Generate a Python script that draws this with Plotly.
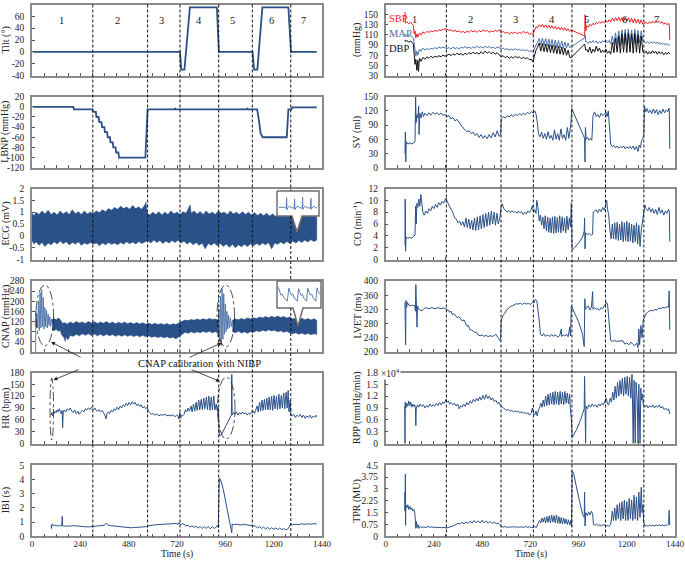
import plotly.graph_objects as go

W, H = 685, 561
FONT = "Liberation Serif"
LINE = "#2b5189"
FRAME = "#8a8a8a"

# ---------------- data (time in s) ----------------
phase_bounds = [302, 574, 735, 927, 1094, 1285]
phase_labels = ["1", "2", "3", "4", "5", "6", "7"]
phase_label_t = [145, 424, 645, 828, 997, 1190, 1350]

time_ticks = [0, 240, 480, 720, 960, 1200, 1440]

tilt = [(5, 0), (735, 0), (741, -30), (757, -30), (784, 75), (918, 75), (928, 0), (1095, 0),
        (1103, -30), (1119, -30), (1144, 75), (1273, 75), (1286, 0), (1414, 0)]

lbnp = [(5, 0), (205, 0), (208, -5), (300, -5), (306, -10), (317, -10), (320, -20), (331, -20),
        (334, -30), (345, -30), (348, -40), (359, -40), (362, -50), (373, -50), (376, -60),
        (387, -60), (390, -70), (401, -70), (404, -80), (415, -80), (418, -90), (429, -90),
        (432, -100), (563, -100), (574, -5), (708, -5), (710, -2), (712, -5), (1067, -5),
        (1069, -2), (1071, -5), (1118, -5), (1128, -30), (1135, -52), (1145, -60), (1265, -60),
        (1273, -5), (1288, -5), (1292, -1), (1414, -1)]

ecg_hi = [(0, 0.95), (10, 0.85), (20, 1.0), (35, 0.9), (50, 1.05), (65, 0.92), (80, 1.08), (95, 0.9),
          (110, 1.0), (125, 0.88), (140, 1.05), (155, 0.92), (170, 1.02), (185, 0.9), (200, 1.1),
          (215, 0.93), (230, 1.02), (245, 0.9), (260, 1.05), (275, 0.92), (290, 1.0), (305, 0.95),
          (320, 1.05), (335, 0.98), (350, 1.1), (365, 1.02), (380, 1.15), (395, 1.08), (410, 1.2),
          (425, 1.12), (440, 1.25), (455, 1.15), (470, 1.22), (485, 1.12), (500, 1.28), (515, 1.15),
          (530, 1.22), (545, 1.12), (560, 1.3), (566, 1.42), (572, 0.95), (585, 0.88), (600, 1.0),
          (615, 0.9), (630, 1.02), (645, 0.88), (660, 1.0), (675, 0.9), (690, 1.05), (705, 0.92),
          (720, 1.0), (735, 0.9), (750, 1.02), (765, 0.95), (785, 1.3), (790, 0.95), (805, 1.05),
          (820, 0.92), (835, 1.02), (850, 0.9), (865, 1.05), (880, 0.92), (895, 1.0), (910, 0.9),
          (925, 1.05), (940, 0.95), (955, 1.0), (970, 0.9), (985, 1.05), (1000, 0.92), (1015, 1.0),
          (1030, 0.9), (1045, 1.02), (1060, 0.9), (1075, 1.0), (1090, 0.88), (1105, 0.98),
          (1120, 0.86), (1135, 0.95), (1150, 0.85), (1165, 0.95), (1180, 0.84), (1195, 0.92),
          (1210, 0.82), (1225, 0.9), (1240, 0.8), (1255, 0.9), (1270, 0.82), (1285, 0.92),
          (1300, 0.84), (1315, 0.9), (1330, 0.82), (1345, 0.88), (1360, 0.8), (1375, 0.86),
          (1390, 0.8), (1405, 0.85), (1414, 0.78)]

ecg_lo = [(0, -0.2), (10, -0.35), (20, -0.25), (35, -0.4), (50, -0.28), (65, -0.45), (80, -0.3),
          (95, -0.38), (110, -0.25), (125, -0.35), (140, -0.22), (155, -0.33), (170, -0.25),
          (185, -0.38), (200, -0.28), (215, -0.35), (230, -0.25), (245, -0.4), (260, -0.3),
          (275, -0.36), (290, -0.28), (305, -0.35), (320, -0.3), (335, -0.42), (350, -0.3),
          (365, -0.38), (380, -0.28), (395, -0.36), (410, -0.3), (425, -0.38), (440, -0.28),
          (455, -0.35), (470, -0.25), (485, -0.33), (500, -0.26), (515, -0.34), (530, -0.24),
          (545, -0.32), (560, -0.25), (575, -0.2), (590, -0.3), (605, -0.18), (620, -0.28),
          (635, -0.2), (650, -0.32), (665, -0.22), (680, -0.3), (695, -0.2), (710, -0.28),
          (725, -0.18), (740, -0.3), (755, -0.22), (770, -0.35), (785, -0.25), (800, -0.38),
          (815, -0.28), (830, -0.4), (845, -0.3), (860, -0.55), (875, -0.32), (890, -0.4),
          (905, -0.3), (920, -0.42), (935, -0.32), (950, -0.45), (965, -0.35), (980, -0.48),
          (995, -0.36), (1010, -0.5), (1025, -0.38), (1040, -0.46), (1055, -0.36), (1070, -0.45),
          (1085, -0.34), (1100, -0.42), (1115, -0.32), (1130, -0.4), (1145, -0.3), (1160, -0.38),
          (1175, -0.28), (1190, -0.55), (1205, -0.3), (1220, -0.36), (1235, -0.26), (1250, -0.34),
          (1265, -0.24), (1280, -0.32), (1295, -0.22), (1310, -0.3), (1325, -0.2), (1340, -0.28),
          (1355, -0.18), (1370, -0.26), (1385, -0.16), (1400, -0.24), (1414, -0.18)]

cnap_hi_a = [(100, 128), (110, 132), (120, 126), (130, 134), (140, 128), (146, 118), (152, 112),
             (160, 116), (175, 110), (190, 118), (205, 112), (220, 120), (235, 114), (250, 118),
             (265, 112), (280, 120), (295, 114), (310, 119), (325, 112), (340, 118), (355, 113),
             (370, 120), (385, 112), (400, 118), (415, 111), (430, 117), (445, 112), (460, 118),
             (475, 111), (490, 116), (505, 110), (520, 116), (535, 110), (550, 115), (565, 109),
             (580, 114), (595, 108), (610, 113), (625, 108), (640, 112), (655, 107), (670, 112),
             (685, 106), (700, 111), (715, 108), (730, 115), (745, 122), (760, 126), (775, 124),
             (790, 128), (805, 125), (820, 130), (835, 126), (850, 131), (865, 127), (880, 132),
             (895, 128), (910, 130), (925, 126)]
cnap_lo_a = [(100, 88), (110, 84), (120, 90), (130, 82), (140, 86), (146, 70), (152, 62), (160, 55),
             (165, 42), (170, 60), (178, 48), (190, 65), (205, 62), (220, 70), (235, 64), (250, 72),
             (265, 66), (280, 72), (295, 65), (310, 71), (325, 64), (340, 70), (355, 63), (370, 70),
             (385, 64), (400, 69), (415, 62), (430, 68), (445, 62), (460, 68), (475, 62), (490, 67),
             (505, 61), (520, 66), (535, 60), (550, 66), (565, 60), (580, 64), (595, 58), (610, 62),
             (625, 57), (640, 61), (655, 56), (670, 60), (685, 55), (700, 58), (715, 52), (730, 60),
             (745, 70), (760, 78), (775, 74), (790, 80), (805, 75), (820, 80), (835, 76), (850, 82),
             (865, 77), (880, 82), (895, 76), (910, 80), (925, 75)]
cnap_hi_b = [(995, 125), (1010, 130), (1025, 127), (1040, 132), (1055, 128), (1070, 134), (1085, 130),
             (1100, 135), (1115, 132), (1130, 138), (1145, 134), (1160, 140), (1175, 135), (1190, 141),
             (1205, 136), (1220, 142), (1235, 136), (1250, 140), (1265, 134), (1280, 138), (1295, 130),
             (1310, 134), (1325, 128), (1340, 133), (1355, 127), (1370, 132), (1385, 126), (1400, 131),
             (1414, 125)]
cnap_lo_b = [(995, 80), (1010, 76), (1025, 82), (1040, 75), (1055, 80), (1070, 74), (1085, 80),
             (1100, 78), (1115, 84), (1130, 80), (1145, 86), (1160, 82), (1175, 88), (1190, 83),
             (1205, 86), (1220, 80), (1235, 84), (1250, 78), (1265, 82), (1280, 75), (1295, 72),
             (1310, 76), (1325, 70), (1340, 75), (1355, 69), (1370, 74), (1385, 68), (1400, 72),
             (1414, 70)]
cnap_cal_a = [(18, 0), (19, 165), (21, 100), (24, 150), (28, 95), (32, 200), (36, 85), (40, 235),
              (44, 95), (48, 245), (52, 100), (56, 215), (60, 90), (64, 175), (68, 100), (72, 165),
              (76, 95), (80, 150), (84, 105), (88, 140), (92, 100), (96, 130), (100, 110)]
cnap_cal_b = [(920, 115), (924, 60), (928, 170), (932, 40), (936, 220), (940, 25), (944, 250),
              (948, 50), (952, 230), (956, 70), (960, 190), (964, 80), (968, 160), (972, 90),
              (976, 145), (980, 95), (985, 135), (990, 100), (995, 125)]

hr = [(95, 72), (98, 78), (102, 70), (106, 80), (110, 76), (115, 82), (120, 78), (125, 85), (130, 80),
      (135, 88), (140, 82), (145, 75), (150, 84), (152, 40), (155, 78), (160, 85), (168, 80), (175, 88),
      (182, 84), (190, 90), (198, 82), (205, 78), (212, 85), (220, 76), (228, 82), (235, 74), (242, 80),
      (250, 84), (258, 80), (265, 88), (272, 85), (280, 90), (288, 86), (295, 92), (300, 88), (305, 85),
      (312, 90), (318, 84), (325, 82), (332, 86), (340, 80), (348, 84), (355, 78), (362, 72), (368, 62),
      (372, 76), (378, 80), (385, 76), (392, 84), (400, 80), (408, 88), (415, 84), (422, 92), (430, 86),
      (438, 95), (445, 90), (452, 98), (460, 94), (468, 102), (475, 96), (482, 104), (490, 98),
      (498, 106), (505, 100), (512, 104), (520, 96), (528, 100), (535, 94), (542, 98), (550, 90),
      (558, 94), (565, 88), (572, 92), (578, 82), (585, 78), (592, 74), (600, 76), (610, 72), (620, 75),
      (630, 70), (640, 73), (650, 72), (660, 74), (670, 70), (680, 72), (690, 70), (700, 73), (710, 68),
      (718, 72), (725, 70), (730, 62), (734, 78), (738, 65), (742, 72), (748, 70), (755, 74), (762, 86),
      (768, 80), (775, 90), (782, 82), (790, 95), (795, 80), (802, 100), (808, 82), (815, 105),
      (820, 84), (828, 110), (833, 85), (840, 112), (846, 86), (853, 115), (858, 88), (866, 118),
      (871, 86), (878, 120), (884, 84), (890, 118), (896, 86), (903, 120), (908, 85), (915, 100),
      (920, 82), (925, 90), (930, 20), (940, 22), (990, 72), (992, 175), (994, 72), (1000, 78),
      (1008, 74), (1015, 80), (1022, 72), (1030, 78), (1038, 74), (1045, 80), (1052, 75), (1060, 78),
      (1068, 72), (1075, 76), (1082, 74), (1090, 80), (1095, 78), (1100, 82), (1105, 76), (1110, 84),
      (1118, 95), (1123, 80), (1130, 105), (1135, 82), (1142, 110), (1147, 84), (1154, 112), (1159, 86),
      (1166, 115), (1171, 85), (1178, 118), (1183, 86), (1190, 120), (1195, 84), (1202, 122),
      (1207, 88), (1214, 120), (1219, 86), (1226, 125), (1231, 88), (1238, 122), (1243, 90),
      (1250, 128), (1255, 88), (1262, 130), (1267, 90), (1272, 135), (1276, 80), (1282, 110),
      (1286, 72), (1292, 70), (1300, 74), (1308, 66), (1316, 72), (1324, 68), (1332, 74), (1340, 66),
      (1348, 72), (1356, 64), (1364, 70), (1372, 66), (1380, 72), (1388, 64), (1396, 70), (1404, 66),
      (1412, 72), (1414, 68)]

ibi = [(95, 0.8), (97, 0.55), (99, 0.85), (110, 0.75), (120, 0.78), (130, 0.72), (140, 0.76),
       (148, 0.72), (150, 1.4), (152, 0.75), (160, 0.72), (175, 0.7), (190, 0.72), (205, 0.75),
       (220, 0.72), (240, 0.7), (260, 0.68), (280, 0.66), (300, 0.68), (320, 0.7), (340, 0.72),
       (360, 0.78), (368, 0.92), (375, 0.8), (390, 0.75), (410, 0.72), (430, 0.68), (450, 0.66),
       (470, 0.62), (490, 0.6), (510, 0.62), (530, 0.64), (550, 0.66), (570, 0.68), (580, 0.75),
       (600, 0.8), (620, 0.82), (640, 0.84), (660, 0.85), (680, 0.86), (700, 0.88), (715, 0.9),
       (725, 0.85), (730, 0.96), (738, 0.8), (745, 0.9), (755, 0.85), (765, 0.72), (775, 0.78),
       (785, 0.65), (795, 0.75), (805, 0.62), (815, 0.72), (825, 0.58), (835, 0.7), (845, 0.55),
       (855, 0.68), (865, 0.55), (875, 0.7), (885, 0.52), (895, 0.68), (905, 0.55), (915, 0.65),
       (922, 0.8), (925, 0.6), (930, 4.1), (936, 4.0), (950, 3.3), (965, 2.2), (980, 1.2), (990, 0.6),
       (992, 0.25), (994, 0.85), (1005, 0.82), (1020, 0.85), (1035, 0.8), (1050, 0.84), (1065, 0.82),
       (1080, 0.78), (1095, 0.75), (1110, 0.7), (1120, 0.6), (1130, 0.68), (1140, 0.55), (1150, 0.65),
       (1160, 0.52), (1170, 0.62), (1180, 0.5), (1190, 0.6), (1200, 0.5), (1210, 0.58), (1220, 0.48),
       (1230, 0.58), (1240, 0.46), (1250, 0.55), (1260, 0.45), (1270, 0.5), (1278, 0.7), (1285, 0.85),
       (1295, 0.82), (1310, 0.85), (1325, 0.82), (1340, 0.88), (1355, 0.84), (1370, 0.88),
       (1385, 0.85), (1400, 0.9), (1414, 0.85)]

sbp = [(96, 155), (98, 133), (105, 136), (115, 132), (125, 135), (132, 130), (138, 128), (142, 112),
       (146, 118), (150, 104), (155, 112), (160, 106), (168, 114), (176, 110), (185, 116), (195, 113),
       (205, 117), (215, 115), (225, 118), (235, 116), (245, 119), (255, 117), (265, 120), (275, 119),
       (285, 121), (295, 122), (305, 121), (315, 119), (325, 120), (335, 117), (345, 119), (355, 116),
       (365, 118), (375, 115), (385, 117), (395, 114), (405, 118), (415, 115), (425, 119), (435, 116),
       (445, 118), (455, 115), (465, 119), (475, 116), (485, 120), (495, 117), (505, 119), (515, 115),
       (525, 118), (535, 116), (545, 119), (555, 117), (565, 120), (575, 114), (585, 117), (595, 113),
       (605, 116), (615, 112), (625, 115), (635, 113), (645, 116), (655, 112), (665, 115), (675, 113),
       (685, 117), (695, 114), (705, 116), (715, 111), (725, 113), (732, 110), (740, 118), (748, 126),
       (756, 124), (764, 130), (772, 126), (780, 131), (788, 125), (796, 130), (804, 124), (812, 129),
       (820, 123), (828, 128), (836, 122), (844, 127), (852, 121), (860, 126), (868, 120), (876, 125),
       (884, 119), (892, 124), (900, 118), (908, 122), (916, 117), (922, 120), (990, 108), (993, 150),
       (996, 118), (1000, 128), (1008, 125), (1016, 131), (1024, 128), (1032, 133), (1040, 130),
       (1048, 135), (1056, 132), (1064, 136), (1072, 133), (1080, 137), (1088, 134), (1096, 138),
       (1104, 135), (1112, 140), (1120, 136), (1128, 143), (1136, 137), (1144, 144), (1152, 138),
       (1160, 145), (1168, 137), (1176, 144), (1184, 136), (1192, 145), (1200, 137), (1208, 144),
       (1216, 135), (1224, 143), (1232, 134), (1240, 142), (1248, 133), (1256, 141), (1264, 132),
       (1272, 140), (1280, 131), (1288, 133), (1296, 135), (1304, 132), (1312, 136), (1320, 133),
       (1328, 137), (1336, 134), (1344, 138), (1352, 135), (1360, 137), (1368, 133), (1376, 136),
       (1384, 131), (1392, 134), (1400, 130), (1408, 133), (1412, 128), (1414, 100)]

mapr = [(96, 112), (98, 108), (105, 110), (115, 107), (125, 109), (132, 106), (138, 104), (142, 92),
        (146, 80), (150, 68), (155, 78), (160, 70), (168, 82), (176, 78), (185, 84), (195, 80),
        (205, 83), (215, 81), (225, 84), (235, 82), (245, 85), (255, 83), (265, 86), (275, 84),
        (285, 86), (295, 85), (305, 83), (315, 85), (325, 82), (335, 86), (345, 83), (355, 85),
        (365, 82), (375, 86), (385, 84), (395, 87), (405, 84), (415, 86), (425, 83), (435, 87),
        (445, 84), (455, 88), (465, 85), (475, 87), (485, 84), (495, 88), (505, 85), (515, 87),
        (525, 84), (535, 86), (545, 83), (555, 86), (565, 85), (575, 82), (585, 84), (595, 81),
        (605, 83), (615, 80), (625, 82), (635, 80), (645, 83), (655, 80), (665, 82), (675, 79),
        (685, 81), (695, 79), (705, 80), (715, 77), (725, 79), (732, 76), (740, 84), (748, 92),
        (756, 96), (764, 103), (772, 90), (780, 104), (788, 89), (796, 103), (804, 88), (812, 102),
        (820, 87), (828, 101), (836, 86), (844, 100), (852, 85), (860, 99), (868, 84), (876, 98),
        (884, 83), (892, 96), (900, 84), (908, 94), (916, 85), (922, 86), (990, 104), (993, 110),
        (996, 96), (1000, 97), (1008, 93), (1016, 98), (1024, 94), (1032, 99), (1040, 95), (1048, 98),
        (1056, 93), (1064, 97), (1072, 94), (1080, 99), (1088, 96), (1096, 100), (1104, 95),
        (1112, 99), (1120, 92), (1128, 108), (1136, 91), (1144, 114), (1152, 92), (1160, 118),
        (1168, 90), (1176, 120), (1184, 92), (1192, 121), (1200, 91), (1208, 122), (1216, 93),
        (1224, 120), (1232, 92), (1240, 121), (1248, 93), (1256, 119), (1264, 94), (1272, 118),
        (1280, 98), (1288, 96), (1296, 94), (1304, 97), (1312, 93), (1320, 96), (1328, 94),
        (1336, 97), (1344, 93), (1352, 96), (1360, 92), (1368, 95), (1376, 91), (1384, 94),
        (1392, 90), (1400, 93), (1408, 89), (1412, 91), (1414, 90)]

dbp = [(96, 100), (98, 97), (105, 99), (115, 96), (125, 98), (132, 95), (138, 92), (142, 70),
       (146, 52), (150, 62), (155, 40), (160, 60), (163, 38), (168, 64), (176, 58), (185, 66),
       (195, 62), (205, 67), (215, 64), (225, 68), (235, 65), (245, 68), (255, 66), (265, 69),
       (275, 67), (285, 70), (295, 68), (305, 70), (315, 72), (325, 69), (335, 73), (345, 70),
       (355, 74), (365, 71), (375, 73), (385, 70), (395, 74), (405, 71), (415, 75), (425, 72),
       (435, 76), (445, 73), (455, 75), (465, 72), (475, 77), (485, 73), (495, 78), (505, 74),
       (515, 77), (525, 73), (535, 76), (545, 72), (555, 75), (565, 71), (575, 67), (585, 69),
       (595, 65), (605, 68), (615, 64), (625, 67), (635, 64), (645, 68), (655, 65), (665, 67),
       (675, 63), (685, 66), (695, 63), (705, 65), (715, 61), (725, 62), (732, 57), (740, 68),
       (748, 80), (756, 86), (764, 94), (772, 78), (780, 93), (788, 77), (796, 92), (804, 76),
       (812, 91), (820, 75), (828, 90), (836, 74), (844, 89), (852, 73), (860, 88), (868, 72),
       (876, 86), (884, 71), (892, 84), (900, 70), (908, 80), (916, 66), (922, 65), (990, 92),
       (993, 88), (996, 80), (1000, 82), (1008, 76), (1016, 86), (1024, 74), (1032, 82), (1040, 76),
       (1048, 88), (1056, 78), (1064, 84), (1072, 75), (1080, 80), (1088, 76), (1096, 82), (1104, 74),
       (1112, 78), (1120, 72), (1128, 95), (1136, 75), (1144, 104), (1152, 76), (1160, 108),
       (1168, 74), (1176, 112), (1184, 76), (1192, 113), (1200, 75), (1208, 114), (1216, 76),
       (1224, 112), (1232, 74), (1240, 113), (1248, 76), (1256, 110), (1264, 74), (1272, 108),
       (1280, 76), (1288, 74), (1296, 78), (1304, 72), (1312, 77), (1320, 73), (1328, 79),
       (1336, 74), (1344, 78), (1352, 72), (1360, 77), (1368, 73), (1376, 76), (1384, 71),
       (1392, 75), (1400, 72), (1408, 76), (1412, 73), (1414, 74)]

sv = [(96, 30), (98, 75), (100, 12), (102, 55), (110, 50), (120, 52), (130, 50), (140, 53), (146, 55),
      (149, 150), (151, 95), (155, 112), (160, 105), (164, 130), (166, 70), (170, 115), (176, 105),
      (182, 118), (188, 108), (195, 115), (205, 110), (215, 116), (225, 111), (235, 117), (245, 113),
      (255, 116), (265, 112), (275, 115), (285, 111), (295, 112), (305, 108), (315, 110), (325, 103),
      (335, 106), (345, 99), (355, 102), (365, 95), (375, 90), (385, 84), (395, 80), (405, 76),
      (415, 78), (425, 72), (435, 75), (445, 68), (455, 72), (465, 64), (475, 70), (485, 62),
      (495, 68), (505, 61), (515, 70), (525, 63), (535, 74), (545, 65), (555, 78), (565, 66),
      (572, 70), (576, 104), (585, 108), (595, 105), (605, 110), (615, 107), (625, 112), (635, 108),
      (645, 113), (655, 110), (665, 114), (675, 111), (685, 115), (695, 112), (705, 117), (715, 114),
      (725, 118), (735, 115), (742, 120), (748, 114), (755, 95), (760, 72), (768, 65), (776, 75),
      (784, 62), (792, 72), (800, 60), (808, 76), (816, 62), (824, 68), (832, 58), (840, 80),
      (848, 60), (856, 72), (864, 58), (872, 82), (880, 62), (888, 70), (896, 58), (904, 85),
      (912, 62), (918, 80), (922, 95), (926, 125), (990, 62), (992, 12), (994, 85), (998, 60),
      (1005, 64), (1012, 58), (1020, 62), (1026, 58), (1032, 110), (1040, 118), (1048, 108),
      (1056, 112), (1064, 106), (1072, 115), (1080, 110), (1088, 113), (1096, 118), (1102, 108),
      (1108, 120), (1114, 85), (1120, 50), (1128, 44), (1136, 47), (1144, 42), (1152, 46),
      (1160, 41), (1168, 45), (1176, 42), (1184, 46), (1192, 40), (1200, 44), (1208, 41),
      (1216, 45), (1224, 40), (1232, 46), (1240, 38), (1248, 45), (1256, 34), (1262, 48),
      (1268, 42), (1274, 58), (1280, 62), (1285, 70), (1288, 130), (1294, 118), (1300, 125),
      (1308, 116), (1316, 122), (1324, 114), (1332, 124), (1340, 115), (1348, 123), (1356, 112),
      (1364, 121), (1372, 114), (1380, 124), (1388, 116), (1396, 122), (1404, 118), (1410, 126),
      (1412, 120), (1414, 40)]

co = [(96, 2.5), (97, 10.2), (99, 1.4), (101, 3.8), (110, 3.6), (120, 3.7), (130, 3.6), (140, 4.0),
      (146, 4.1), (149, 9.0), (152, 6.0), (155, 9.5), (160, 8.8), (165, 10.2), (170, 9.0),
      (175, 11.0), (180, 9.5), (185, 8.0), (192, 7.5), (200, 8.2), (208, 7.8), (216, 8.6), (224, 8.2),
      (232, 9.0), (240, 8.6), (248, 9.3), (256, 8.8), (264, 9.6), (272, 9.2), (280, 9.8), (288, 9.5),
      (295, 10.2), (300, 10.4), (306, 9.8), (312, 9.4), (320, 9.0), (328, 8.5), (336, 7.8),
      (344, 7.0), (352, 6.8), (360, 6.2), (368, 6.5), (376, 5.8), (384, 6.4), (392, 5.5), (400, 7.0),
      (406, 5.4), (414, 6.8), (420, 5.2), (428, 6.6), (434, 5.0), (442, 7.0), (448, 4.9), (456, 7.2),
      (462, 5.0), (470, 7.4), (476, 5.2), (484, 7.6), (490, 5.4), (498, 7.8), (504, 5.6), (512, 8.0),
      (518, 5.8), (526, 8.2), (532, 6.0), (540, 8.0), (546, 5.8), (554, 7.8), (560, 6.0), (568, 7.0),
      (574, 8.8), (580, 9.4), (588, 8.6), (596, 8.2), (604, 8.0), (612, 8.3), (620, 7.9), (628, 8.2),
      (636, 8.0), (644, 8.1), (652, 7.8), (660, 8.2), (668, 7.9), (676, 8.1), (684, 7.6), (692, 8.0),
      (700, 7.7), (708, 8.2), (716, 7.9), (724, 8.4), (730, 9.1), (736, 8.0), (742, 8.4), (748, 7.8),
      (752, 10.0), (758, 8.8), (764, 6.5), (770, 7.5), (776, 5.8), (782, 7.2), (788, 5.2), (794, 7.4),
      (800, 4.8), (806, 7.2), (812, 4.6), (818, 7.0), (824, 4.5), (830, 7.2), (836, 4.4), (842, 7.3),
      (848, 4.5), (854, 7.1), (860, 4.6), (866, 7.4), (872, 4.5), (878, 7.2), (884, 4.8), (890, 7.0),
      (896, 4.5), (902, 7.3), (908, 5.0), (914, 7.0), (920, 5.5), (924, 9.5), (928, 1.6), (940, 2.0),
      (960, 2.8), (980, 3.8), (988, 4.8), (990, 7.0), (992, 1.8), (995, 4.5), (1005, 4.2),
      (1015, 4.4), (1025, 4.1), (1030, 4.3), (1033, 8.0), (1040, 8.2), (1048, 8.4), (1056, 7.9),
      (1064, 8.5), (1072, 8.1), (1080, 8.8), (1088, 8.3), (1094, 9.0), (1100, 10.0), (1104, 8.5),
      (1110, 7.5), (1116, 5.0), (1122, 3.5), (1128, 6.0), (1134, 3.5), (1140, 6.2), (1146, 3.4),
      (1152, 6.3), (1158, 3.2), (1164, 6.0), (1170, 3.3), (1176, 6.4), (1182, 3.0), (1188, 6.2),
      (1194, 3.2), (1200, 6.5), (1206, 3.0), (1212, 6.2), (1218, 3.1), (1224, 6.0), (1230, 2.8),
      (1236, 5.8), (1242, 3.0), (1248, 6.2), (1254, 2.6), (1260, 5.8), (1266, 2.2), (1272, 5.0),
      (1278, 6.5), (1284, 8.0), (1290, 9.2), (1296, 8.6), (1304, 8.2), (1312, 8.8), (1320, 8.0),
      (1328, 8.6), (1336, 7.8), (1344, 8.5), (1352, 7.6), (1360, 8.8), (1368, 7.8), (1376, 8.4),
      (1384, 7.5), (1392, 8.2), (1400, 7.8), (1408, 8.5), (1412, 8.0), (1414, 3.0)]

lvet = [(96, 340), (97, 300), (99, 220), (101, 345), (104, 325), (108, 340), (115, 332), (125, 330),
        (135, 332), (145, 330), (148, 315), (150, 390), (152, 320), (156, 270), (158, 330), (165, 320),
        (172, 318), (180, 316), (190, 322), (200, 325), (215, 322), (230, 325), (245, 322), (260, 325),
        (275, 322), (290, 324), (300, 322), (305, 318), (312, 318), (318, 312), (325, 315), (332, 305),
        (340, 308), (348, 300), (356, 296), (364, 300), (372, 292), (380, 288), (390, 290), (398, 278),
        (405, 272), (412, 275), (420, 262), (428, 262), (436, 258), (444, 255), (452, 256), (460, 248),
        (470, 246), (480, 248), (490, 244), (500, 247), (510, 243), (520, 246), (530, 244), (540, 246),
        (548, 250), (555, 242), (562, 238), (568, 232), (572, 236), (575, 290), (580, 300), (586, 305),
        (594, 310), (600, 318), (610, 322), (620, 328), (630, 330), (640, 334), (650, 336), (660, 335),
        (670, 337), (680, 334), (690, 338), (700, 335), (710, 337), (720, 334), (728, 338), (732, 340),
        (738, 338), (745, 348), (752, 345), (758, 320), (764, 290), (770, 250), (778, 245), (786, 252),
        (794, 244), (802, 248), (810, 246), (818, 244), (826, 250), (834, 244), (842, 248), (850, 245),
        (858, 242), (866, 246), (874, 265), (876, 244), (884, 248), (892, 245), (900, 250), (908, 243),
        (916, 270), (920, 245), (924, 330), (940, 310), (960, 285), (980, 250), (988, 215), (991, 350),
        (994, 320), (1000, 325), (1008, 330), (1016, 318), (1024, 326), (1030, 370), (1032, 320),
        (1040, 325), (1048, 320), (1056, 322), (1064, 318), (1072, 325), (1080, 322), (1088, 330),
        (1094, 336), (1100, 340), (1105, 330), (1110, 300), (1115, 260), (1120, 232), (1130, 230),
        (1140, 232), (1150, 230), (1160, 231), (1170, 230), (1180, 232), (1190, 222), (1200, 226),
        (1210, 220), (1220, 228), (1230, 222), (1240, 218), (1250, 225), (1256, 212), (1260, 265),
        (1264, 220), (1270, 275), (1276, 240), (1282, 290), (1288, 300), (1296, 308), (1304, 312),
        (1312, 315), (1320, 318), (1330, 316), (1340, 320), (1350, 318), (1360, 324), (1370, 322),
        (1380, 326), (1390, 324), (1400, 328), (1408, 326), (1411, 372), (1414, 262)]

rpp = [(95, 9500), (96, 0), (97, 10500), (100, 9000), (105, 10200), (110, 9400), (115, 10800),
       (120, 9600), (125, 10500), (130, 9200), (135, 10000), (140, 9400), (145, 9800), (148, 8800),
       (150, 4500), (152, 9000), (158, 9800), (165, 9200), (172, 10000), (180, 9400), (188, 9800),
       (196, 9000), (204, 9600), (212, 9200), (220, 10000), (228, 9400), (236, 9800), (244, 9500),
       (252, 10200), (260, 9600), (268, 10400), (276, 9800), (284, 10500), (292, 10200), (300, 11200),
       (306, 10500), (312, 10800), (318, 10000), (326, 10400), (334, 9800), (342, 10200), (350, 9500),
       (358, 10000), (366, 8800), (372, 9600), (380, 9200), (388, 10000), (396, 9400), (404, 10400),
       (412, 9800), (420, 10800), (428, 10200), (436, 11200), (444, 10600), (452, 11500), (460, 10800),
       (468, 11800), (476, 11000), (484, 12200), (492, 11200), (500, 12400), (508, 11400), (516, 12000),
       (524, 11000), (532, 11600), (540, 10600), (548, 11000), (556, 10200), (564, 10400), (572, 9600),
       (580, 9200), (588, 8800), (596, 8600), (604, 8400), (612, 8600), (620, 8200), (628, 8400),
       (636, 8000), (644, 8300), (652, 8000), (660, 8200), (668, 7800), (676, 8000), (684, 7600),
       (692, 7900), (700, 7500), (708, 7800), (716, 7200), (724, 7600), (730, 9000), (736, 7600),
       (742, 7200), (748, 8200), (754, 7000), (760, 8500), (766, 9000), (772, 10200), (778, 9200),
       (784, 11000), (790, 9400), (796, 12000), (802, 9600), (808, 12500), (814, 9800), (820, 12800),
       (826, 10000), (832, 13000), (838, 9800), (844, 13200), (850, 10000), (856, 13000), (862, 9800),
       (868, 13200), (874, 10000), (880, 13000), (886, 9800), (892, 13200), (898, 10200), (904, 12800),
       (910, 10000), (916, 12500), (920, 8000), (924, 6500), (928, 1500), (950, 3500), (970, 6000),
       (988, 8800), (990, 17000), (992, 9000), (995, 0), (997, 9500), (1004, 8800), (1012, 9800),
       (1020, 9200), (1028, 10000), (1036, 9400), (1044, 9800), (1052, 9200), (1060, 10000),
       (1068, 9500), (1076, 10200), (1084, 9800), (1092, 10800), (1098, 11500), (1104, 10000),
       (1110, 9800), (1118, 11500), (1124, 10500), (1130, 13000), (1136, 11000), (1142, 14500),
       (1148, 11500), (1154, 15500), (1160, 12000), (1166, 16000), (1172, 12500), (1178, 16500),
       (1184, 12000), (1190, 16800), (1196, 12500), (1202, 17000), (1208, 12000), (1214, 16800),
       (1220, 11500), (1226, 17500), (1232, 0), (1236, 16000), (1242, 0), (1246, 15500), (1252, 11000),
       (1256, 0), (1260, 15000), (1266, 0), (1270, 14000), (1274, 11000), (1278, 12500), (1282, 9800),
       (1290, 9200), (1298, 9800), (1306, 9000), (1314, 9600), (1322, 9200), (1330, 9800), (1338, 9000),
       (1346, 9600), (1354, 9200), (1362, 9800), (1370, 9000), (1378, 9400), (1386, 8600), (1394, 9000),
       (1402, 8400), (1408, 8800), (1414, 7500)]

tpr = [(95, 2.8), (96, 1.6), (98, 3.95), (99, 0.7), (100, 2.0), (105, 1.8), (110, 2.0), (115, 1.7),
       (120, 1.9), (125, 1.7), (130, 1.8), (135, 1.6), (140, 1.7), (145, 1.5), (148, 1.0), (150, 0.5),
       (152, 0.95), (156, 0.55), (160, 0.75), (166, 0.5), (172, 0.65), (180, 0.55), (190, 0.6),
       (200, 0.55), (210, 0.62), (220, 0.58), (230, 0.6), (240, 0.56), (250, 0.58), (260, 0.55),
       (270, 0.57), (280, 0.54), (290, 0.56), (300, 0.53), (310, 0.55), (320, 0.58), (330, 0.62),
       (340, 0.68), (350, 0.75), (360, 0.82), (370, 0.78), (380, 0.88), (390, 0.8), (400, 0.9),
       (410, 0.82), (420, 0.95), (430, 0.84), (440, 1.0), (450, 0.86), (460, 0.98), (470, 0.84),
       (480, 1.02), (490, 0.85), (500, 0.98), (510, 0.82), (520, 0.95), (530, 0.8), (540, 0.92),
       (550, 0.78), (560, 0.85), (570, 0.72), (578, 0.6), (586, 0.58), (596, 0.62), (606, 0.56),
       (616, 0.6), (626, 0.58), (636, 0.61), (646, 0.57), (656, 0.6), (666, 0.57), (676, 0.6),
       (686, 0.56), (696, 0.62), (706, 0.57), (716, 0.6), (726, 0.56), (734, 0.55), (742, 0.62),
       (750, 0.56), (758, 0.8), (766, 1.0), (772, 0.85), (778, 1.15), (784, 0.9), (790, 1.2),
       (796, 0.85), (802, 1.25), (808, 0.88), (814, 1.3), (820, 0.85), (826, 1.35), (832, 0.9),
       (838, 1.3), (844, 0.85), (850, 1.35), (856, 0.82), (862, 1.25), (868, 0.8), (874, 1.2),
       (880, 0.78), (886, 1.15), (892, 0.8), (898, 1.1), (904, 0.75), (910, 1.05), (916, 0.72),
       (922, 1.0), (925, 0.6), (928, 4.15), (935, 4.0), (950, 3.2), (965, 2.2), (980, 1.4), (988, 1.2),
       (990, 2.8), (992, 0.65), (996, 1.5), (1004, 1.3), (1010, 1.55), (1016, 1.35), (1024, 1.6),
       (1030, 1.4), (1034, 0.75), (1042, 0.7), (1050, 0.78), (1058, 0.68), (1066, 0.72), (1074, 0.66),
       (1082, 0.74), (1090, 0.68), (1098, 0.65), (1104, 0.7), (1110, 0.62), (1116, 0.68), (1122, 0.9),
       (1128, 1.6), (1134, 1.0), (1140, 1.8), (1146, 1.0), (1152, 2.0), (1158, 1.1), (1164, 2.1),
       (1170, 1.0), (1176, 2.2), (1182, 1.1), (1188, 2.3), (1194, 1.0), (1200, 2.2), (1206, 1.0),
       (1212, 2.4), (1218, 1.1), (1224, 2.3), (1230, 1.0), (1236, 2.6), (1242, 1.1), (1248, 2.5),
       (1254, 1.0), (1260, 2.8), (1266, 1.2), (1272, 3.1), (1276, 1.5), (1280, 2.0), (1284, 0.9),
       (1290, 0.65), (1298, 0.7), (1306, 0.63), (1314, 0.72), (1322, 0.66), (1330, 0.7), (1338, 0.64),
       (1346, 0.72), (1354, 0.66), (1362, 0.74), (1370, 0.67), (1378, 0.72), (1386, 0.66),
       (1394, 0.73), (1402, 0.68), (1408, 0.75), (1411, 1.65), (1414, 0.7)]

# small illustrative waveforms shown in the two callout boxes (normalised 0..1)
ecg_inset = [(0, 0.3), (0.08, 0.33), (0.15, 0.3), (0.19, 0.28), (0.2, 0.78), (0.21, 0.2), (0.23, 0.3),
             (0.28, 0.37), (0.32, 0.3), (0.4, 0.28), (0.41, 0.72), (0.42, 0.2), (0.44, 0.3), (0.5, 0.37),
             (0.54, 0.3), (0.61, 0.28), (0.62, 0.8), (0.63, 0.22), (0.65, 0.3), (0.7, 0.37), (0.74, 0.3),
             (0.83, 0.28), (0.84, 0.74), (0.85, 0.22), (0.87, 0.3), (0.92, 0.37), (0.96, 0.3), (1, 0.3)]
cnap_inset = [(0, 0.8), (0.03, 0.6), (0.07, 0.45), (0.1, 0.5), (0.14, 0.35), (0.22, 0.2), (0.26, 0.75),
              (0.29, 0.58), (0.32, 0.45), (0.35, 0.5), (0.39, 0.33), (0.46, 0.2), (0.49, 0.72),
              (0.52, 0.56), (0.55, 0.44), (0.58, 0.48), (0.62, 0.32), (0.68, 0.2), (0.71, 0.74),
              (0.74, 0.58), (0.77, 0.45), (0.8, 0.5), (0.84, 0.33), (0.9, 0.2), (0.93, 0.76),
              (0.96, 0.6), (1.0, 0.5)]

# y axis tick labels per panel
tilt_ticks = [-40, -20, 0, 20, 40, 60, 80]
lbnp_ticks = [-120, -100, -80, -60, -40, -20, 0, 20]
ecg_ticks = [-1, -0.5, 0, 0.5, 1, 1.5, 2]
cnap_ticks = [0, 40, 80, 120, 160, 200, 240, 280]
hr_ticks = [0, 30, 60, 90, 120, 150, 180]
ibi_ticks = [0, 1, 2, 3, 4, 5]
bp_ticks = [30, 50, 70, 90, 110, 130, 150, 170]
sv_ticks = [0, 30, 60, 90, 120, 150]
co_ticks = [0, 2, 4, 6, 8, 10, 12]
lvet_ticks = [200, 240, 280, 320, 360, 400]
rpp_ticks = [0, 3000, 6000, 9000, 12000, 15000, 18000]
rpp_tick_text = ["0", "0.3", "0.6", "0.9", "1.2", "1.5", "1.8"]
tpr_ticks = [0, 0.75, 1.5, 2.25, 3, 3.75, 4.5]

# ---------------- layout geometry (pixels) ----------------
COLS = [(32, 322), (385.7, 675)]
TOPS = [4.5, 96.7, 188.5, 281, 372.5, 465.3]
PH = 71
TICKFONT = dict(family=FONT, size=9.5, color="#222")
XTICKFONT = dict(family=FONT, size=9, color="#222")


def fx(p):
    return p / W


def fy(p):
    return 1 - p / H


panels = [
    (0, 0, tilt_ticks, None, "Tilt (°)"),
    (0, 1, lbnp_ticks, None, "LBNP (mmHg)"),
    (0, 2, ecg_ticks, None, "ECG (mV)"),
    (0, 3, cnap_ticks, None, "CNAP (mmHg)"),
    (0, 4, hr_ticks, None, "HR (bpm)"),
    (0, 5, ibi_ticks, None, "IBI (s)"),
    (1, 0, bp_ticks, None, "(mmHg)"),
    (1, 1, sv_ticks, None, "SV (ml)"),
    (1, 2, co_ticks, None, "CO (min<sup>-1</sup>)"),
    (1, 3, lvet_ticks, None, "LVET (ms)"),
    (1, 4, rpp_ticks, rpp_tick_text, "RPP (mmHg/min)"),
    (1, 5, tpr_ticks, None, "TPR (MU)"),
]

fig = go.Figure()
layout = dict(width=W, height=H, margin=dict(l=0, r=0, t=0, b=0, pad=0, autoexpand=False),
              showlegend=False, paper_bgcolor="white", plot_bgcolor="rgba(0,0,0,0)",
              font=dict(family=FONT, size=10, color="#222"))

x_minor = [m for m in range(0, 1441, 60)]
x_text = [str(m) if m in time_ticks else "" for m in x_minor]

annotations = []
for k, (col, row, ticks, ttext, title) in enumerate(panels, start=1):
    a, b = COLS[col]
    top = TOPS[row]
    layout["xaxis%d" % k] = dict(
        domain=[fx(a), fx(b)], range=[0, 1440], anchor="y%d" % k, automargin=False,
        showline=True, mirror=True, linecolor=FRAME, linewidth=1.5,
        ticks="inside", ticklen=3, tickcolor="#555", tickwidth=1,
        tickmode="array", tickvals=x_minor, ticktext=x_text, ticklabelstandoff=-2,
        showticklabels=(row == 5), tickfont=XTICKFONT,
        showgrid=False, zeroline=False, fixedrange=True)
    layout["yaxis%d" % k] = dict(
        domain=[fy(top + PH), fy(top)], range=[ticks[0], ticks[-1]], anchor="x%d" % k,
        automargin=False, ticklabelstandoff=4,
        showline=True, mirror=True, linecolor=FRAME, linewidth=1.5,
        ticks="inside", ticklen=3, tickcolor="#555", tickwidth=1,
        tickmode="array", tickvals=ticks, ticktext=ttext if ttext else ["%g" % t for t in ticks],
        tickfont=TICKFONT, showgrid=False, zeroline=False, fixedrange=True)
    annotations.append(dict(xref="paper", yref="paper", x=fx(5.5 if col == 0 else 357),
                            y=fy(top + PH / 2), text=title, textangle=-90, showarrow=False,
                            xanchor="center", yanchor="middle",
                            font=dict(family=FONT, size=10, color="#222")))


def split(pts):
    return [p[0] for p in pts], [p[1] for p in pts]


def add_line(k, pts, color=LINE, width=1.0):
    x, y = split(pts)
    fig.add_trace(go.Scatter(x=x, y=y, mode="lines", xaxis="x%d" % k, yaxis="y%d" % k,
                             line=dict(color=color, width=width), hoverinfo="skip"))


def add_band(k, hi, lo, color=LINE):
    xh, yh = split(hi)
    xl, yl = split(lo)
    fig.add_trace(go.Scatter(x=xh + xl[::-1], y=yh + yl[::-1], mode="lines", fill="toself",
                             fillcolor=color, xaxis="x%d" % k, yaxis="y%d" % k,
                             line=dict(color=color, width=0.6), hoverinfo="skip"))


add_line(1, tilt, width=1.8)
add_line(2, lbnp, width=1.8)
add_band(3, ecg_hi, ecg_lo)
add_band(4, cnap_hi_a, cnap_lo_a)
add_band(4, cnap_hi_b, cnap_lo_b)
add_line(4, cnap_cal_a, color="#4a70a8", width=0.9)
add_line(4, cnap_cal_b, color="#4a70a8", width=0.9)
add_line(5, hr)
add_line(6, ibi)
add_line(7, sbp, color="#f01e23")
add_line(7, mapr, color="#4a72aa")
add_line(7, dbp, color="#111111")
add_line(8, sv)
add_line(9, co)
add_line(10, lvet)
add_line(11, rpp)
add_line(12, tpr)

# ---------- callout insets (own hidden axes, pixel-unit ranges) ----------
insets = [
    (13, (275, 323, 189, 235), (277, 319, 191, 216), (292, 302, 297, 232), ecg_inset, (279, 317, 214, 21)),
    (14, (275, 324, 279, 329), (277, 321, 281, 308), (293, 303, 298, 326), cnap_inset, (278, 320, 306, 24)),
]
for k, reg, box, ptr, wave, wmap in insets:
    layout["xaxis%d" % k] = dict(domain=[fx(reg[0]), fx(reg[1])], range=[reg[0], reg[1]],
                                 anchor="y%d" % k, visible=False, fixedrange=True, automargin=False)
    layout["yaxis%d" % k] = dict(domain=[fy(reg[3]), fy(reg[2])], range=[reg[3], reg[2]],
                                 anchor="x%d" % k, visible=False, fixedrange=True, automargin=False)
    bx = [box[0], box[1], box[1], ptr[1], ptr[2], ptr[0], box[0], box[0]]
    by = [box[2], box[2], box[3], box[3], ptr[3], box[3], box[3], box[2]]
    fig.add_trace(go.Scatter(x=bx, y=by, mode="lines", fill="toself", fillcolor="white",
                             xaxis="x%d" % k, yaxis="y%d" % k,
                             line=dict(color="#6f6f6f", width=1.5), hoverinfo="skip"))
    wx0, wx1, wyb, wh = wmap
    fig.add_trace(go.Scatter(x=[wx0 + u * (wx1 - wx0) for u, v in wave],
                             y=[wyb - v * wh for u, v in wave], mode="lines",
                             xaxis="x%d" % k, yaxis="y%d" % k,
                             line=dict(color="#5a80b8", width=1), hoverinfo="skip"))

# ---------- phase boundaries ----------
shapes = []
bottom = TOPS[5] + PH
for col, xr in ((0, "x"), (1, "x7")):
    for tb in phase_bounds:
        segs = [(TOPS[0], bottom)]
        if col == 0 and tb == 1285:
            segs = [(TOPS[0], 191), (216, 281), (308, bottom)]
        for y0, y1 in segs:
            shapes.append(dict(type="line", xref=xr, yref="paper", x0=tb, x1=tb,
                               y0=fy(y0), y1=fy(y1), layer="above",
                               line=dict(color="#111", width=1, dash="3px,2px")))

# ellipses marking CNAP calibration
for (x0, x1, y0, y1) in [(36, 53.5, 285, 346), (217, 234.5, 285, 347),
                         (50, 53.5, 378, 440), (217.5, 235, 377, 439)]:
    shapes.append(dict(type="circle", xref="paper", yref="paper", x0=fx(x0), x1=fx(x1),
                       y0=fy(y1), y1=fy(y0), layer="above",
                       line=dict(color="#222", width=0.8, dash="dashdot")))

# phase numbers
for col, xr in ((0, "x"), (1, "x7")):
    for t, s in zip(phase_label_t, phase_labels):
        annotations.append(dict(xref=xr, yref="paper", x=t, y=fy(13 if col == 0 else 12), text=s,
                                showarrow=False, font=dict(family=FONT, size=10.5, color="#222")))

# BP labels
for txt, ypx, colr in (("SBP", 19, "#f01e23"), ("MAP", 34, "#4a72aa"), ("DBP", 48.5, "#111")):
    annotations.append(dict(xref="paper", yref="paper", x=fx(387), y=fy(ypx), text=txt,
                            showarrow=False, xanchor="left", yanchor="middle",
                            font=dict(family=FONT, size=10.5, color=colr)))

# x axis titles
for xc in (177, 531):
    annotations.append(dict(xref="paper", yref="paper", x=fx(xc), y=0, text="Time (s)",
                            showarrow=False, xanchor="center", yanchor="bottom", borderpad=0,
                            font=dict(family=FONT, size=9.5, color="#222")))

# RPP exponent
annotations.append(dict(xref="paper", yref="paper", x=fx(380.5), y=fy(372.5), text="×10<sup>4</sup>",
                        showarrow=False, xanchor="left", yanchor="middle", bgcolor="white",
                        borderpad=0, font=dict(family=FONT, size=9.5, color="#222")))

# calibration note and arrows
annotations.append(dict(xref="paper", yref="paper", x=fx(135.7), y=fy(363.5),
                        text="CNAP calibration with NIBP", showarrow=False,
                        font=dict(family=FONT, size=10.5, color="#111")))
for tip, tail in [((51, 342), (82, 358)), ((53.5, 380), (80, 369)),
                  ((221.5, 343), (188, 358)), ((220, 381.5), (190, 369))]:
    annotations.append(dict(xref="paper", yref="paper", x=fx(tip[0]), y=fy(tip[1]), text="",
                            showarrow=True, axref="pixel", ayref="pixel",
                            ax=tail[0] - tip[0], ay=tail[1] - tip[1],
                            arrowhead=2, arrowsize=1, arrowwidth=0.8, arrowcolor="#222"))

layout["shapes"] = shapes
layout["annotations"] = annotations
fig.update_layout(**layout)
fig.write_html("out.html", config={"displayModeBar": False},
               post_script="document.body.style.margin='0px';")
